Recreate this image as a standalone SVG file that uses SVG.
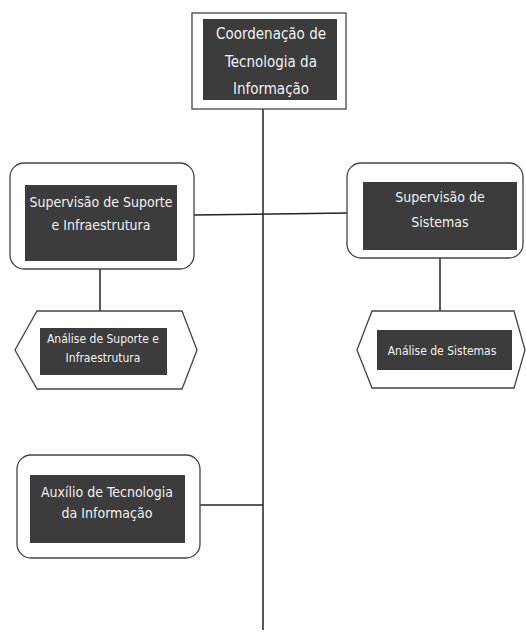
<svg xmlns="http://www.w3.org/2000/svg" width="526" height="632" viewBox="0 0 526 632">
<style>
.frame{fill:#fff;stroke:#444;stroke-width:1.3}
.dark{fill:#3c3c3c}
.t{font-family:"Liberation Sans Narrow","DejaVu Sans Condensed","Liberation Sans",sans-serif;fill:#f2f2f2;text-anchor:middle}
.xl{font-size:15px}
.l{font-size:14px}
.s{font-size:12px}
.c{stroke:#222;stroke-width:1.5;fill:none}
</style>
<g id="connectors">
<line class="c" x1="263" y1="108" x2="263" y2="630"/>
<line class="c" x1="193" y1="215" x2="349" y2="213"/>
<line class="c" x1="100" y1="268" x2="100" y2="311"/>
<line class="c" x1="440" y1="257" x2="440" y2="311"/>
<line class="c" x1="200" y1="505" x2="263" y2="505"/>
</g>
<g id="n-coord">
<rect class="frame" x="192" y="13" width="154" height="96"/>
<rect class="dark" x="203" y="19" width="134" height="81"/>
<text class="t xl" x="271" y="39">Coordenação de</text>
<text class="t xl" x="271" y="67">Tecnologia da</text>
<text class="t xl" x="271" y="94">Informação</text>
</g>
<g id="n-sup-suporte">
<rect class="frame" x="10" y="163" width="184" height="106" rx="14"/>
<rect class="dark" x="25" y="185" width="152" height="76"/>
<text class="t l" x="101" y="207">Supervisão de Suporte</text>
<text class="t l" x="101" y="230">e Infraestrutura</text>
</g>
<g id="n-sup-sistemas">
<rect class="frame" x="347" y="163" width="176" height="95" rx="14"/>
<rect class="dark" x="363" y="182" width="154" height="68"/>
<text class="t l" x="440" y="202">Supervisão de</text>
<text class="t l" x="440" y="227">Sistemas</text>
</g>
<g id="n-analise-suporte">
<polygon class="frame" points="37,311 182,311 197,350 182,389 37,389 15,350"/>
<rect class="dark" x="40" y="328" width="127" height="47"/>
<text class="t s" x="103" y="343">Análise de Suporte e</text>
<text class="t s" x="103" y="362">Infraestrutura</text>
</g>
<g id="n-analise-sistemas">
<polygon class="frame" points="372,311 514,311 525,350 514,388 372,388 357,350"/>
<rect class="dark" x="377" y="330" width="135" height="40"/>
<text class="t s" x="442" y="355">Análise de Sistemas</text>
</g>
<g id="n-auxilio">
<rect class="frame" x="17" y="455" width="183" height="103" rx="14"/>
<rect class="dark" x="30" y="475" width="155" height="68"/>
<text class="t l" x="107" y="497">Auxílio de Tecnologia</text>
<text class="t l" x="107" y="518">da Informação</text>
</g>
</svg>
